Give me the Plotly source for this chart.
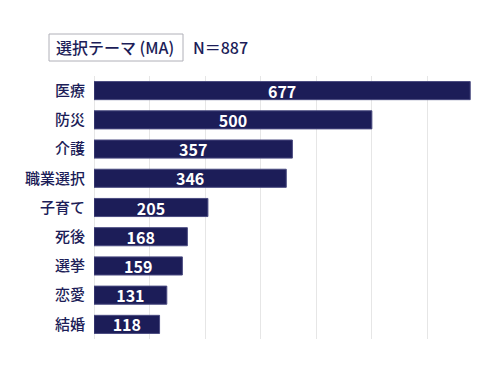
import plotly.graph_objects as go

categories = ["医療", "防災", "介護", "職業選択", "子育て", "死後", "選挙", "恋愛", "結婚"]
values = [677, 500, 357, 346, 205, 168, 159, 131, 118]
title_label = "選択テーマ (MA)"
n_label = "N＝887"

navy = "#1c1d58"
font_family = "Noto Sans CJK JP, Noto Sans, sans-serif"

# page offset of the figure div (default body margin)
OFF = 8
L, R, T, B = 94 - OFF, 500 - (483 - OFF), 76 - OFF, 375 - (339 - OFF)
PW, PH = 500 - L - R, 375 - T - B


def px(x):
    return (x - OFF - L) / PW


def py(y):
    return (375 - B - (y - OFF)) / PH


fig = go.Figure(go.Bar(
    y=categories,
    x=values,
    orientation="h",
    marker=dict(color=navy, line=dict(color="#4a4b80", width=1)),
    text=[str(v) for v in values],
    textposition="inside",
    insidetextanchor="middle",
    constraintext="none",
    textfont=dict(color="white", size=16, family=font_family, weight="bold"),
    hoverinfo="skip",
))

fig.update_layout(
    width=500, height=375,
    margin=dict(l=L, r=R, t=T, b=B),
    paper_bgcolor="white",
    plot_bgcolor="white",
    bargap=0.38,
    showlegend=False,
    font=dict(family=font_family, color=navy),
    xaxis=dict(
        range=[0, 700], dtick=100, showticklabels=False,
        showgrid=True, gridcolor="#e6e6e6", gridwidth=1,
        zeroline=True, zerolinecolor="#e6e6e6", zerolinewidth=1,
        showline=False, fixedrange=True,
    ),
    yaxis=dict(
        autorange="reversed", showgrid=False, showline=False,
        tickfont=dict(size=15, color=navy, family=font_family, weight=500),
        ticks="", ticklabelstandoff=8,
    ),
    shapes=[dict(
        type="rect", xref="paper", yref="paper",
        x0=px(49), x1=px(183), y0=py(61), y1=py(34),
        line=dict(color="#b0b0b8", width=1), fillcolor="white",
    )],
    annotations=[
        dict(text=title_label, xref="paper", yref="paper",
             x=px(115), y=py(47.5),
             xanchor="center", yanchor="middle", showarrow=False,
             font=dict(size=16, color=navy, family=font_family, weight=500)),
        dict(text=n_label, xref="paper", yref="paper",
             x=px(191), y=py(47.5),
             xanchor="left", yanchor="middle", showarrow=False,
             font=dict(size=16, color=navy, family=font_family, weight=500)),
    ],
)

fig.write_html("out.html")
